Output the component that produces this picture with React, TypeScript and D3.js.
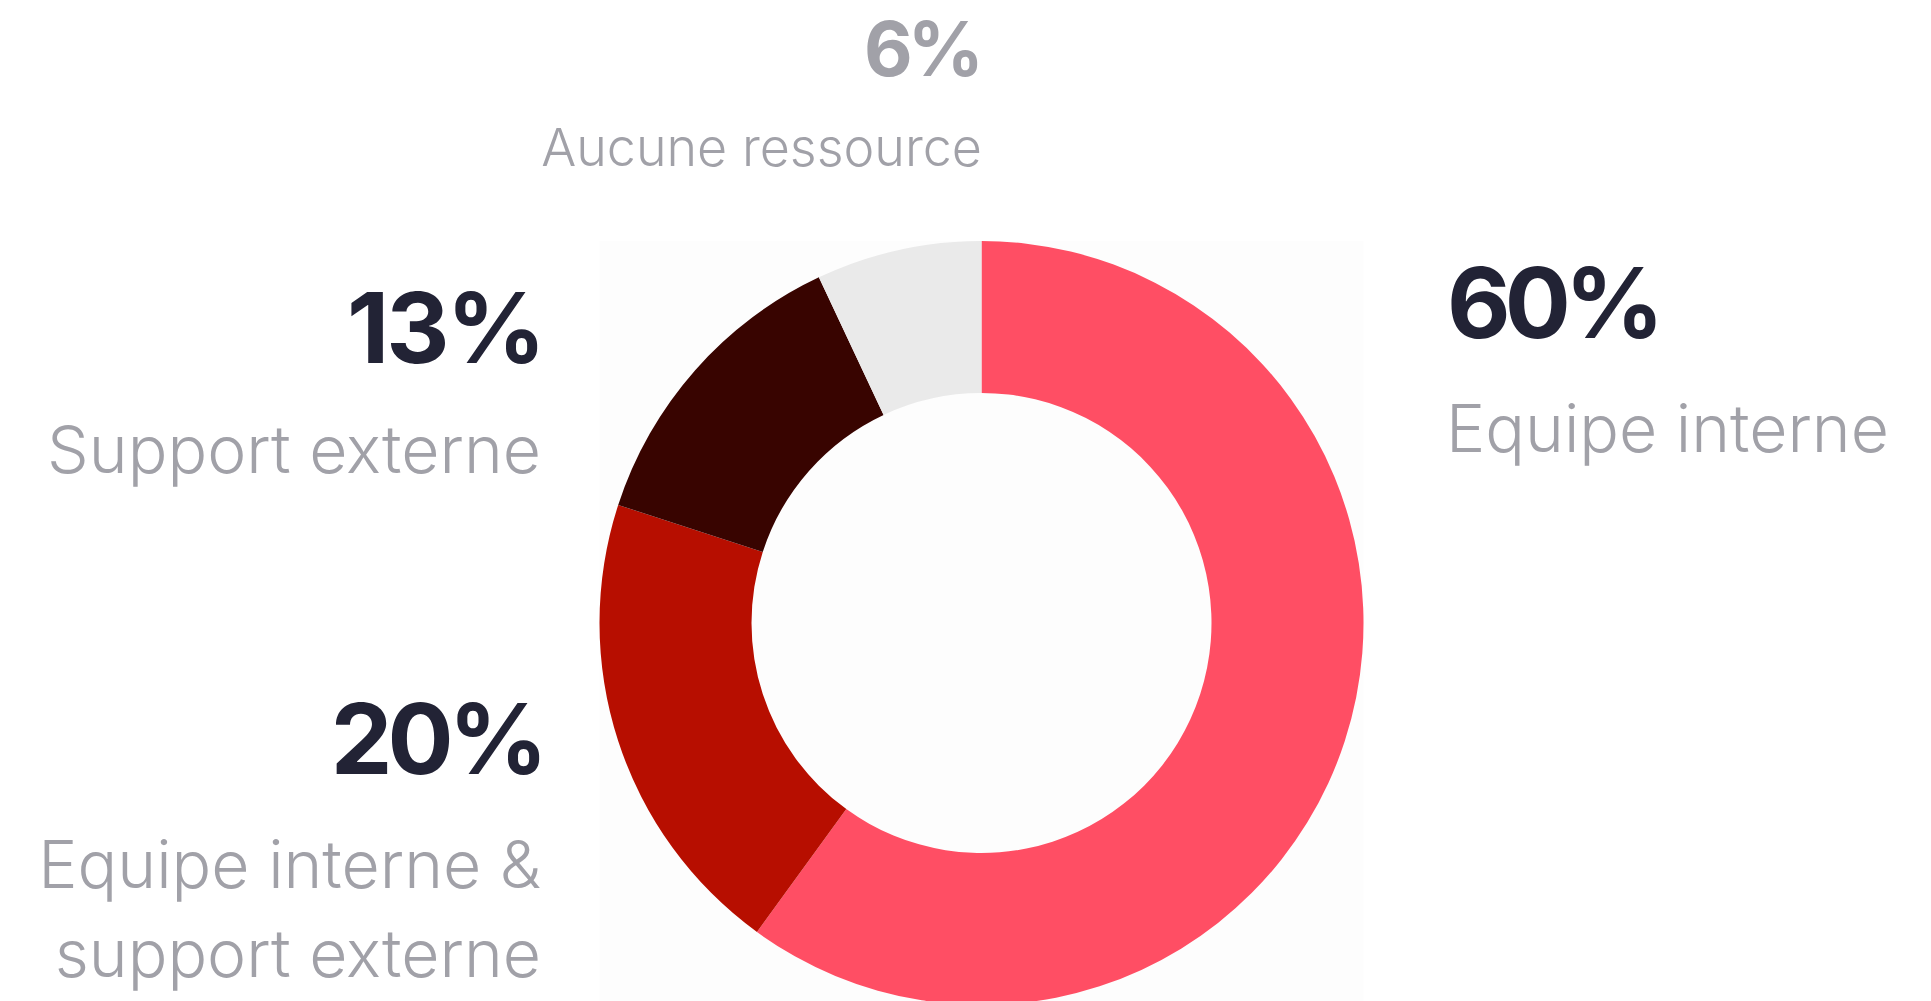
import { useEffect, useRef } from "react";
import * as d3 from "d3";

const width = 1931;
const height = 1001;

// slices, clockwise from 12 o'clock
const categories = ["Equipe interne", "Equipe interne & support externe", "Support externe", "Aucune ressource"];
const values = [60, 20, 13, 6];
const colors = ["#ff4e64", "#b70e00", "#380400", "#eaeaea"];

const cx = 981.5;
const cy = 623;
const outerR = 382;
const innerR = 230;

const App = () => {
  const ref = useRef<SVGSVGElement>(null);

  useEffect(() => {
    const svg = d3.select(ref.current);
    svg.selectAll("*").remove();

    svg.append("rect").attr("width", width).attr("height", height).attr("fill", "#fff");

    // faint panel behind the donut
    svg.append("rect")
      .attr("x", cx - outerR)
      .attr("y", cy - outerR)
      .attr("width", outerR * 2)
      .attr("height", outerR * 2)
      .attr("fill", "#fdfdfd");

    // angles out of 100%, last slice takes the rounding remainder
    const angle = d3.scaleLinear().domain([0, 100]).range([0, 2 * Math.PI]);
    const cum = [0, ...d3.cumsum(values)];
    const slices = values.map((v, i) => ({
      startAngle: angle(cum[i]),
      endAngle: i === values.length - 1 ? 2 * Math.PI : angle(cum[i + 1]),
      color: colors[i],
    }));

    const arc = d3.arc<any>().innerRadius(innerR).outerRadius(outerR);

    svg.append("g")
      .attr("transform", `translate(${cx},${cy})`)
      .selectAll("path")
      .data(slices)
      .enter().append("path")
      .attr("d", arc)
      .attr("fill", d => d.color);

    const num = "#222335";
    const lab = "#a1a1a8";
    const font = "Inter, 'Open Sans', sans-serif";

    const addText = (x, y, txt, size, weight, fill, anchor, ls = 0) =>
      svg.append("text")
        .attr("x", x).attr("y", y)
        .attr("font-family", font)
        .attr("font-size", size)
        .attr("font-weight", weight)
        .attr("fill", fill)
        .attr("text-anchor", anchor)
        .attr("letter-spacing", ls)
        .text(txt);

    // Equipe interne
    addText(1447, 338, `${values[0]}%`, 98, 700, num, "start", -6);
    addText(1446, 452, categories[0], 66, 300, lab, "start");

    // Equipe interne & support externe
    addText(543, 774, `${values[1]}%`, 98, 700, num, "end", -5);
    addText(541, 888, "Equipe interne &", 66, 300, lab, "end");
    addText(541, 977, "support externe", 66, 300, lab, "end");

    // Support externe
    addText(543, 363, `${values[2]}%`, 98, 700, num, "end", -3);
    addText(541, 473, categories[2], 66, 300, lab, "end");

    // Aucune ressource
    addText(979, 76, `${values[3]}%`, 75, 700, lab, "end", -5);
    addText(982, 166, categories[3], 52, 300, lab, "end");
  }, []);

  return (
    <svg
      ref={ref}
      width={width}
      height={height}
      style={{ position: "absolute", left: 0, top: 0 }}
    ></svg>
  );
};

export default App;
